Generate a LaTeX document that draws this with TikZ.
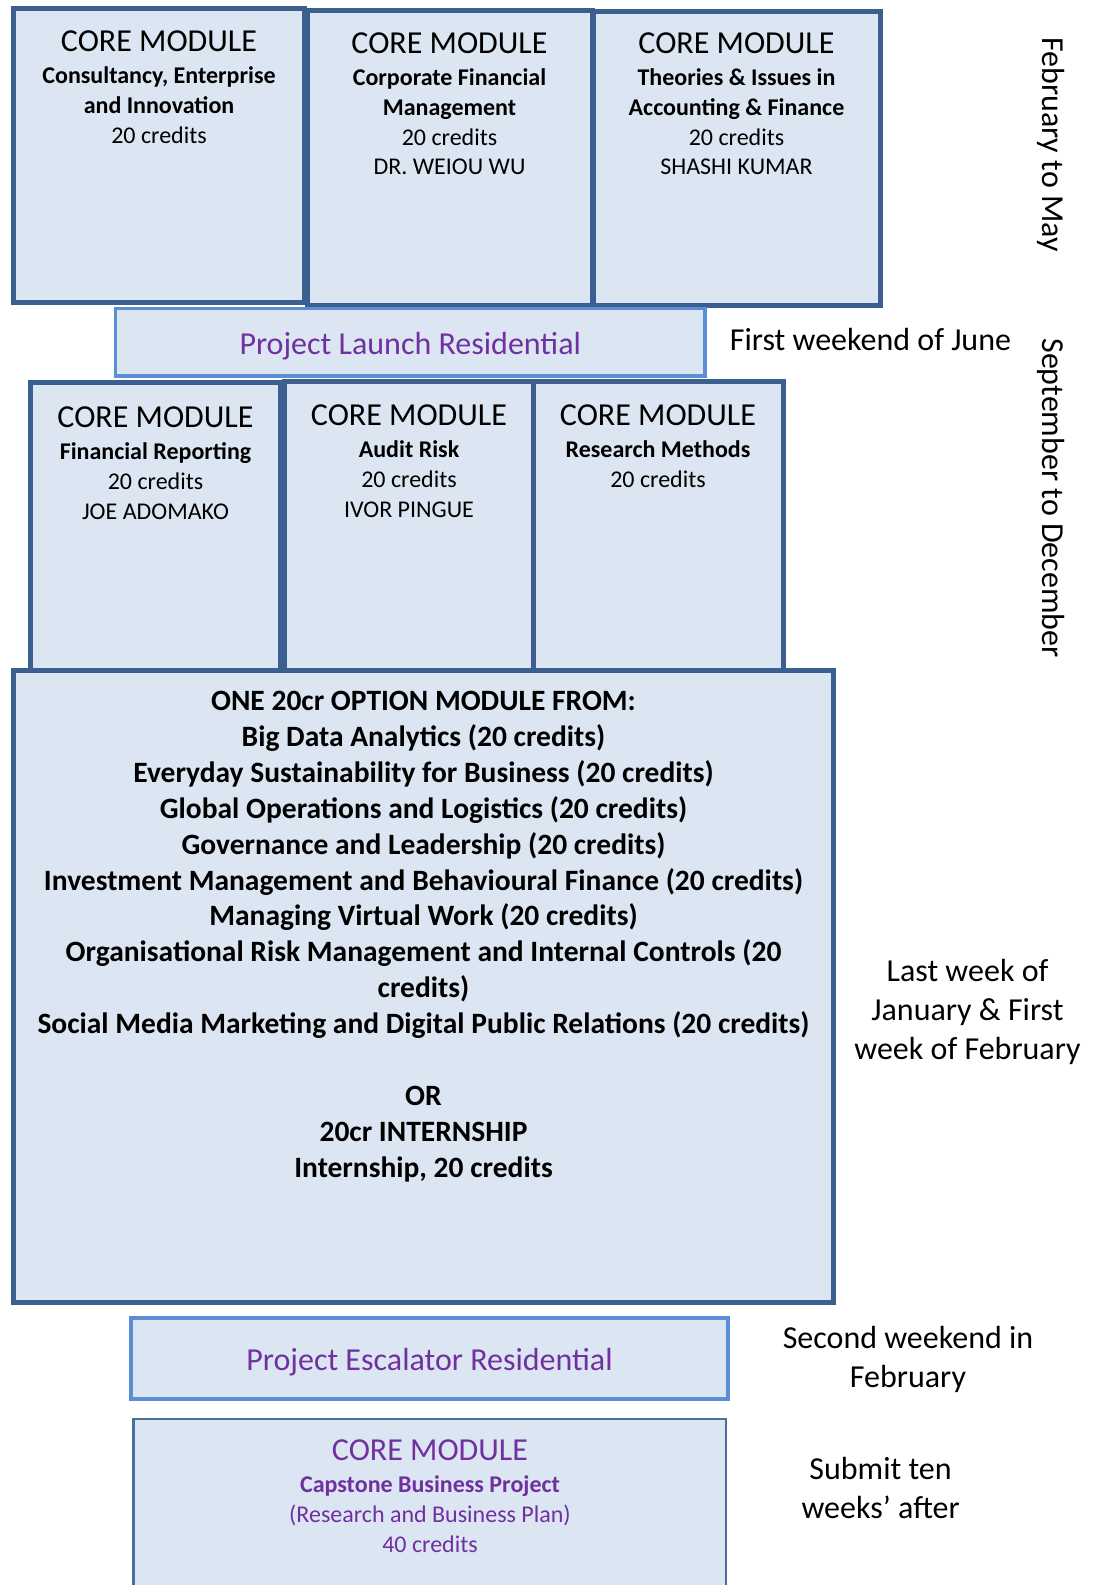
\documentclass[tikz,border=0pt]{standalone}
\usepackage{fontspec}
\setmainfont{Carlito}
\definecolor{boxfill}{HTML}{DCE6F2}
\definecolor{boxline}{HTML}{3B5F8E}
\definecolor{resline}{HTML}{5B8ED5}
\definecolor{capline}{HTML}{4A6F9D}
\definecolor{resviolet}{HTML}{7030A0}
\newcommand{\bigsz}{\fontsize{32}{39}\selectfont}
\newcommand{\smallsz}{\fontsize{24}{29.7}\selectfont}
\newcommand{\optsz}{\fontsize{29.5}{35.9}\selectfont}

\begin{document}
\begin{tikzpicture}[x=1pt,y=-1pt,
    modbox/.style={rectangle,draw=boxline,line width=5pt,fill=boxfill,
      anchor=north west,inner sep=0pt,outer sep=0pt},
    resbox/.style={modbox,draw=resline,line width=3.5pt},
    capbox/.style={modbox,draw=capline,line width=2.5pt},
    modtext/.style={anchor=north,align=center,inner sep=0pt,font=\smallsz},
    sidetext/.style={align=center,inner sep=0pt,font=\bigsz}]
  \useasboundingbox (0,0) rectangle (1098,1585);

  % February to May
  \node[modbox,minimum width=291pt,minimum height=294.5pt] (consult) at (13.5,8) {};
  \node[modbox,minimum width=285pt,minimum height=295pt] (corpfin) at (307,10) {};
  \node[modbox,minimum width=287pt,minimum height=294pt] (theories) at (593,11) {};
  \node[modtext] (consult-txt) at (159,31)
    {{\bigsz CORE MODULE}\\[2pt]\textbf{Consultancy, Enterprise}\\
     \textbf{and Innovation}\\20 credits};
  \node[modtext] (corpfin-txt) at (449.5,33)
    {{\bigsz CORE MODULE}\\[2pt]\textbf{Corporate Financial}\\
     \textbf{Management}\\20 credits\\DR. WEIOU WU};
  \node[modtext] (theories-txt) at (736.5,33)
    {{\bigsz CORE MODULE}\\[2pt]\textbf{Theories \& Issues in}\\
     \textbf{Accounting \& Finance}\\20 credits\\SHASHI KUMAR};

  \node[resbox,minimum width=589.5pt,minimum height=67.5pt] (launch) at (115.5,308.5) {};
  \node[font=\bigsz,text=resviolet,inner sep=0pt] (launch-txt)
    at ([yshift=-3.5pt]launch.center) {Project Launch Residential};

  % September to December
  \node[modbox,minimum width=250pt,minimum height=290pt] (finrep) at (30.5,382) {};
  \node[modbox,minimum width=248.5pt,minimum height=290.5pt] (audit) at (284.5,381.5) {};
  \node[modbox,minimum width=250pt,minimum height=290.5pt] (research) at (533,381.5) {};
  \node[modtext] (finrep-txt) at (155.5,407)
    {{\bigsz CORE MODULE}\\[2pt]\textbf{Financial Reporting}\\
     20 credits\\JOE ADOMAKO};
  \node[modtext] (audit-txt) at (409,405)
    {{\bigsz CORE MODULE}\\[2pt]\textbf{Audit Risk}\\
     20 credits\\IVOR PINGUE};
  \node[modtext] (research-txt) at (658,405)
    {{\bigsz CORE MODULE}\\[2pt]\textbf{Research Methods}\\20 credits};

  \node[modbox,minimum width=820pt,minimum height=631.5pt] (options) at (13.5,670.5) {};
  \node[modtext,font=\optsz\bfseries] (options-txt) at (423.5,691)
    {ONE 20cr OPTION MODULE FROM:\\
     Big Data Analytics (20 credits)\\
     Everyday Sustainability for Business (20 credits)\\
     Global Operations and Logistics (20 credits)\\
     Governance and Leadership (20 credits)\\
     Investment Management and Behavioural Finance (20 credits)\\
     Managing Virtual Work (20 credits)\\
     Organisational Risk Management and Internal Controls (20\\
     credits)\\
     Social Media Marketing and Digital Public Relations (20 credits)\\[35.9pt]
     OR\\
     20cr INTERNSHIP\\
     Internship, 20 credits};

  \node[resbox,minimum width=597pt,minimum height=81pt] (escalator) at (131,1318) {};
  \node[font=\bigsz,text=resviolet,inner sep=0pt] (escalator-txt)
    at ([yshift=-4pt]escalator.center) {Project Escalator Residential};

  \node[capbox,minimum width=592.5pt,minimum height=180pt] (capstone) at (133.5,1419) {};
  \node[modtext,text=resviolet] (capstone-txt) at (430,1440)
    {{\bigsz CORE MODULE}\\[2pt]\textbf{Capstone Business Project}\\
     (Research and Business Plan)\\40 credits};

  % when
  \node[sidetext,rotate=-90] (febmay) at (1051.5,144.6) {February to May};
  \node[sidetext] (june) at (870.5,339.7) {First weekend of June};
  \node[sidetext,rotate=-90] (sepdec) at (1051.5,498) {September to December};
  \node[sidetext] (janfeb) at (967.5,1012) {Last week of\\January \& First\\week of February};
  \node[sidetext] (febsecond) at (908,1359) {Second weekend in\\February};
  \node[sidetext] (submit) at (880.6,1488) {Submit ten\\weeks’ after};
\end{tikzpicture}
\end{document}
